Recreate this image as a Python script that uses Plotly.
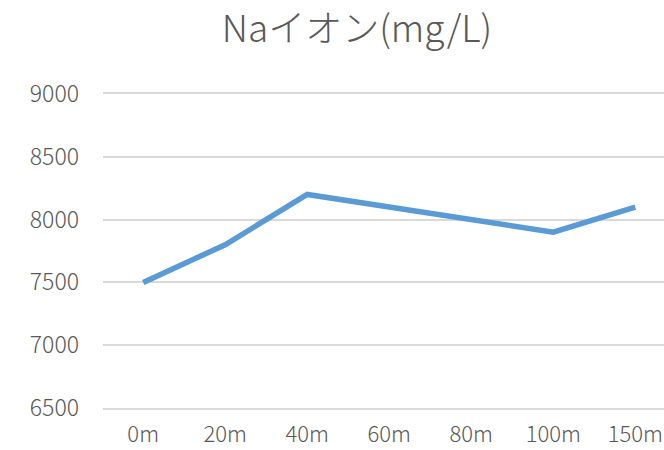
import plotly.graph_objects as go

# Sodium ion concentration by depth
depths = ["0m", "20m", "40m", "60m", "80m", "100m", "150m"]
na_values = [7500, 7800, 8200, 8100, 8000, 7900, 8100]
y_ticks = [6500, 7000, 7500, 8000, 8500, 9000]

FONT = "Noto Sans CJK JP"
TEXT = "#595959"
GRID = "#D9D9D9"

fig = go.Figure(
    go.Scatter(
        x=depths,
        y=na_values,
        mode="lines",
        line=dict(color="#5B9BD5", width=5.5),
        hoverinfo="skip",
    )
)

fig.update_layout(
    width=664,
    height=450,
    margin=dict(l=103, r=0, t=94, b=42, autoexpand=False),
    paper_bgcolor="white",
    plot_bgcolor="white",
    showlegend=False,
    font=dict(family=FONT, color=TEXT),
    title=dict(
        text="Naイオン(mg/L)",
        x=357 / 664,
        xanchor="center",
        y=1 - 29 / 450,
        yanchor="middle",
        font=dict(family=FONT, size=37, color=TEXT, weight=300),
    ),
)

# bottom/top border lines stand in for the 6500 and 9000 grid lines
fig.update_xaxes(
    type="category",
    range=[-0.49, 6.35],
    automargin=False,
    showgrid=False,
    zeroline=False,
    showline=True,
    mirror=True,
    linecolor=GRID,
    linewidth=1.5,
    ticks="",
    ticklabelstandoff=6,
    tickfont=dict(family=FONT, size=22, color=TEXT, weight=300),
)

fig.update_yaxes(
    range=[6500, 9000],
    tickvals=y_ticks,
    automargin=False,
    showgrid=True,
    gridcolor=GRID,
    gridwidth=1.5,
    zeroline=False,
    showline=False,
    ticks="",
    ticklabelstandoff=23,
    tickfont=dict(family=FONT, size=23, color=TEXT, weight=300),
)

fig.write_html("out.html")
